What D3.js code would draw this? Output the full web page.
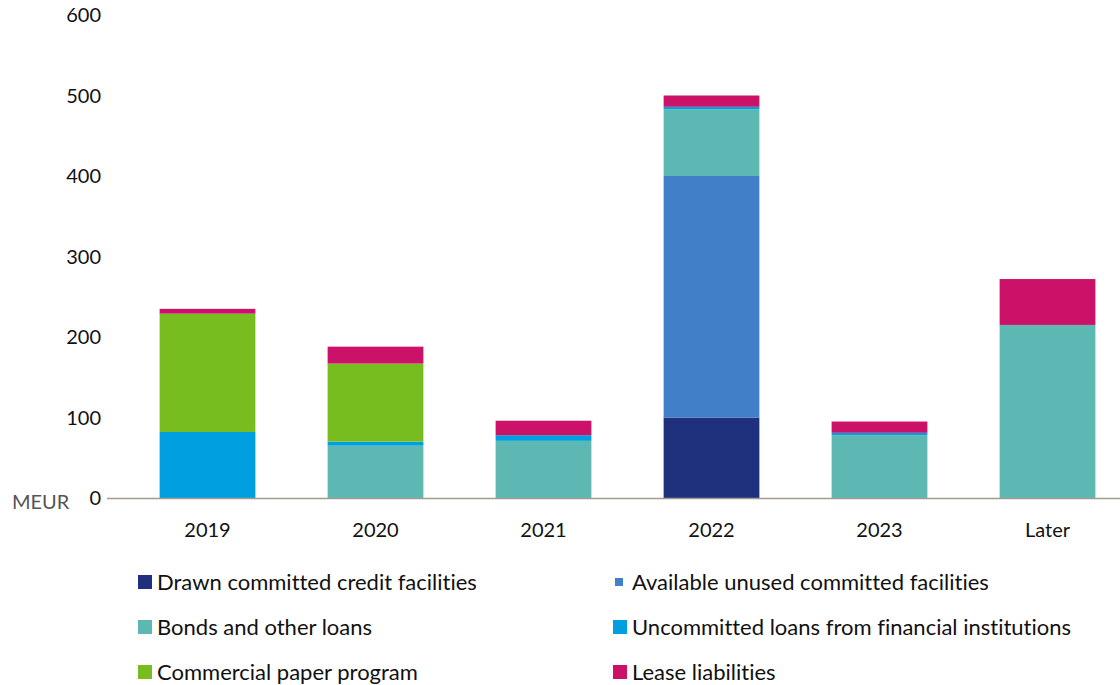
<!DOCTYPE html>
<html>
<head>
<meta charset="utf-8">
<script src="https://cdn.jsdelivr.net/npm/d3@7"></script>
<style>
  body { margin: 0; background: #fff; }
  svg { display: block; font-family: Lato, "Open Sans", sans-serif; font-variant-ligatures: none; }
</style>
</head>
<body>
<svg width="1120" height="685"></svg>
<script>
const categories = ["2019", "2020", "2021", "2022", "2023", "Later"];
const seriesNames = [
  "Drawn committed credit facilities",
  "Available unused committed facilities",
  "Bonds and other loans",
  "Uncommitted loans from financial institutions",
  "Commercial paper program",
  "Lease liabilities"
];
const drawn       = [0, 0, 0, 100, 0, 0];
const unused      = [0, 0, 0, 300, 0, 0];
const bonds       = [0, 65, 71, 83, 78, 215];
const uncommitted = [82, 5, 7, 3, 3, 0];
const cpProgram   = [147, 97, 0, 0, 0, 0];
const lease       = [6, 21, 18, 14, 14, 57];
const yTicks = [0, 100, 200, 300, 400, 500, 600];
const colors = ["#1f317d", "#4180c8", "#5db8b4", "#00a0e0", "#78bd20", "#cc1169"];

const seriesValues = [drawn, unused, bonds, uncommitted, cpProgram, lease];
const table = categories.map((c, i) => {
  const row = { cat: c };
  seriesNames.forEach((s, j) => row[s] = seriesValues[j][i]);
  return row;
});

const svg = d3.select("svg");

const x = d3.scaleBand(categories, [123.5, 1131.5]).paddingInner(0.43).paddingOuter(0.215);
const y = d3.scaleLinear([0, 600], [498, 15]);

const stacked = d3.stack().keys(seriesNames)(table);
const color = d3.scaleOrdinal(seriesNames, colors);

// bars
svg.append("g")
  .selectAll("g")
  .data(stacked)
  .join("g")
  .attr("fill", d => color(d.key))
  .selectAll("rect")
  .data(d => d)
  .join("rect")
  .attr("x", d => x(d.data.cat))
  .attr("width", x.bandwidth())
  .attr("y", d => y(d[1]))
  .attr("height", d => y(d[0]) - y(d[1]));

// baseline
svg.append("line")
  .attr("x1", 107).attr("x2", 1120)
  .attr("y1", y(0) + 0.5).attr("y2", y(0) + 0.5)
  .attr("stroke", "#a39a94")
  .attr("stroke-width", 1.5);

// y tick labels
svg.append("g")
  .selectAll("text")
  .data(yTicks)
  .join("text")
  .attr("x", 101)
  .attr("y", d => y(d))
  .attr("dy", "0.35em")
  .attr("text-anchor", "end")
  .attr("font-size", 20)
  .attr("fill", "#111")
  .text(d => d);

svg.append("text")
  .attr("x", 12).attr("y", y(0) + 4)
  .attr("dy", "0.35em")
  .attr("font-size", 20)
  .attr("fill", "#555")
  .text("MEUR");

// x labels
svg.append("g")
  .selectAll("text")
  .data(categories)
  .join("text")
  .attr("x", d => x(d) + x.bandwidth() / 2)
  .attr("y", 530)
  .attr("dy", "0.35em")
  .attr("text-anchor", "middle")
  .attr("font-size", 20)
  .attr("fill", "#111")
  .text(d => d);

// legend
const legend = svg.append("g")
  .selectAll("g")
  .data(seriesNames)
  .join("g")
  .attr("transform", (d, i) => `translate(${i % 2 === 0 ? 138 : 613},${582 + Math.floor(i / 2) * 45})`);

legend.append("rect")
  .attr("x", (d, i) => i === 1 ? 2 : 0)
  .attr("y", (d, i) => i === 1 ? -4 : -7)
  .attr("width", (d, i) => i === 1 ? 8 : 14)
  .attr("height", (d, i) => i === 1 ? 8 : 14)
  .attr("fill", d => color(d));

legend.append("text")
  .attr("x", 19)
  .attr("dy", "0.35em")
  .attr("font-size", 22)
  .attr("fill", "#111")
  .text(d => d);
</script>
</body>
</html>
